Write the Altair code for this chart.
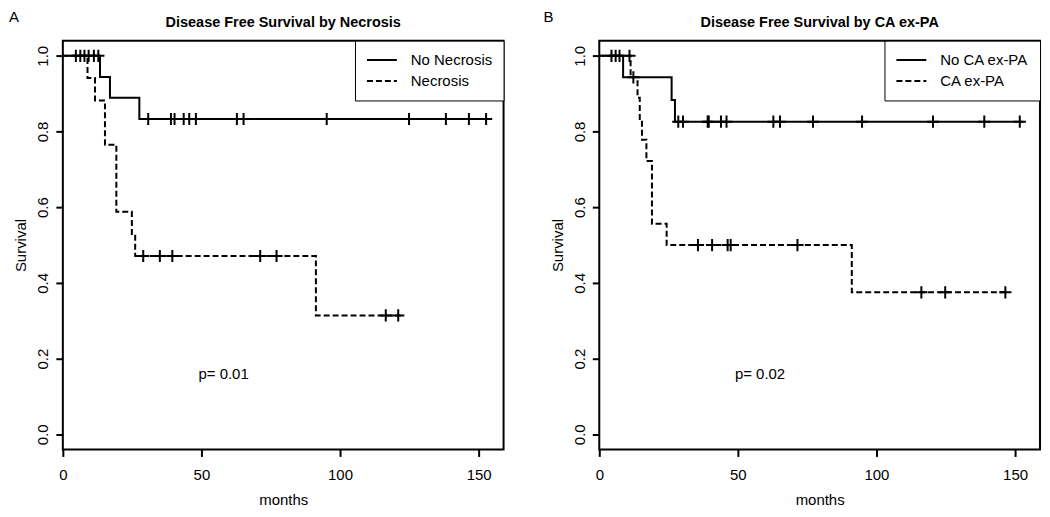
import altair as alt
import pandas as pd

# ---------------- data ----------------
# Panel A: Disease Free Survival by Necrosis
a_names = ["No Necrosis", "Necrosis"]
a_no_t = [0, 13.4, 17.0, 27.6]
a_no_s = [1.0, 0.944, 0.889, 0.833]
a_no_end = 154.0
a_no_cens = [4.7, 6.3, 7.8, 9.3, 11.2, 12.8, 30.8, 39.0, 40.3, 43.6, 45.6, 48.0,
             62.8, 65.2, 95.2, 124.9, 138.2, 146.5, 152.7]
a_ne_t = [0, 8.9, 11.6, 15.2, 19.3, 24.9, 26.1, 91.3]
a_ne_s = [1.0, 0.941, 0.882, 0.765, 0.588, 0.529, 0.471, 0.314]
a_ne_end = 122.0
a_ne_cens = [29.0, 35.0, 39.5, 71.2, 77.1, 116.5, 121.0]
a_p = "p= 0.01"

# Panel B: Disease Free Survival by CA ex-PA
b_names = ["No CA ex-PA", "CA ex-PA"]
b_no_t = [0, 8.6, 26.1, 27.3]
b_no_s = [1.0, 0.943, 0.883, 0.826]
b_no_end = 153.0
b_no_cens = [4.4, 5.9, 7.3, 12.3, 28.5, 30.2, 39.1, 39.5, 43.9, 45.9, 62.8, 65.2,
             77.1, 94.8, 120.4, 138.9, 151.7]
b_ca_t = [0, 11.3, 13.8, 14.6, 15.4, 17.0, 19.0, 24.3, 91.1]
b_ca_s = [1.0, 0.944, 0.889, 0.833, 0.778, 0.722, 0.556, 0.5, 0.375]
b_ca_end = 147.0
b_ca_cens = [10.9, 35.6, 40.7, 46.3, 47.4, 71.5, 116.2, 124.8, 146.5]
b_p = "p= 0.02"

p_pos = (58, 0.16)
x_ticks = [0, 50, 100, 150]
y_ticks = [0.0, 0.2, 0.4, 0.6, 0.8, 1.0]

W, H = 442, 410
FONT = "Liberation Sans"


def surv_at(ts, ss, t):
    v = ss[0]
    for ti, si in zip(ts, ss):
        if ti <= t:
            v = si
    return v


def build_frames(names, curves):
    lines, marks = [], []
    for name, (ts, ss, end, cens) in zip(names, curves):
        for ti, si in zip(ts, ss):
            lines.append({"group": name, "t": ti, "s": si})
        lines.append({"group": name, "t": end, "s": ss[-1]})
        for c in cens:
            marks.append({"group": name, "t": c, "s": surv_at(ts, ss, c)})
    return pd.DataFrame(lines), pd.DataFrame(marks)


def panel(letter, title, names, curves, ptext, letter_x):
    ldf, mdf = build_frames(names, curves)
    xs = alt.Scale(domain=[0, 159], nice=False, zero=False)
    ys = alt.Scale(domain=[-0.04, 1.04], nice=False, zero=False)
    xax = alt.Axis(values=x_ticks, title="months", labelFlush=False, labelOverlap=False,
                   labelPadding=11, titlePadding=10)
    yax = alt.Axis(values=y_ticks, format=".1f", title="Survival", labelAngle=270,
                   labelAlign="center", labelBaseline="alphabetic", labelPadding=8,
                   labelFlush=False, labelOverlap=False,
                   titleX=-37, titleY=H / 2, titleAngle=270, titleAlign="center",
                   titleBaseline="alphabetic")
    lines = alt.Chart(ldf).mark_line(interpolate="step-after", color="black",
                                     strokeWidth=2).encode(
        x=alt.X("t:Q", scale=xs, axis=xax),
        y=alt.Y("s:Q", scale=ys, axis=yax),
        strokeDash=alt.StrokeDash(
            "group:N",
            scale=alt.Scale(domain=names, range=[[1, 0], [6, 3]]),
            legend=alt.Legend(title=None, orient="top-right", offset=0,
                              strokeColor="black", fillColor="white", padding=11,
                              symbolType="M-1,0L3,0", symbolSize=225,
                              symbolStrokeWidth=2, symbolStrokeColor="black",
                              labelFont=FONT, labelFontSize=15, labelColor="black",
                              labelOffset=28, rowPadding=4, labelLimit=300,
                              cornerRadius=0)),
        detail="group:N",
    )
    crosses = alt.Chart(mdf).mark_point(shape="M-1,0L1,0M0,-1L0,1", size=150,
                                        filled=False, stroke="black", strokeWidth=2,
                                        opacity=1).encode(
        x=alt.X("t:Q", scale=xs), y=alt.Y("s:Q", scale=ys))
    pdf = pd.DataFrame({"t": [p_pos[0]], "s": [p_pos[1]], "lab": [ptext]})
    ptxt = alt.Chart(pdf).mark_text(font=FONT, fontSize=15, color="black").encode(
        x=alt.X("t:Q", scale=xs), y=alt.Y("s:Q", scale=ys), text="lab:N")
    ldf2 = pd.DataFrame({"lab": [letter]})
    lett = alt.Chart(ldf2).mark_text(font=FONT, fontSize=15, color="black",
                                     align="left", baseline="top").encode(
        x=alt.value(letter_x), y=alt.value(-31), text="lab:N")
    tdf = pd.DataFrame({"lab": [title]})
    ttl = alt.Chart(tdf).mark_text(font=FONT, fontSize=14.5, fontWeight="bold",
                                   color="black", align="center",
                                   baseline="alphabetic").encode(
        x=alt.value(W / 2), y=alt.value(-14), text="lab:N")
    return alt.layer(lines, crosses, ptxt, lett, ttl).properties(width=W, height=H)


pa = panel("A", "Disease Free Survival by Necrosis", a_names,
           [(a_no_t, a_no_s, a_no_end, a_no_cens), (a_ne_t, a_ne_s, a_ne_end, a_ne_cens)],
           a_p, -54)
pb = panel("B", "Disease Free Survival by CA ex-PA", b_names,
           [(b_no_t, b_no_s, b_no_end, b_no_cens), (b_ca_t, b_ca_s, b_ca_end, b_ca_cens)],
           b_p, -56)

chart = alt.hconcat(pa, pb, spacing=37).resolve_scale(
    strokeDash="independent").resolve_legend(strokeDash="independent").properties(
    padding=0, background="white"
).configure_view(stroke="black", strokeWidth=2).configure_axis(
    domain=False, grid=False, tickColor="black", tickWidth=2, tickSize=7,
    labelFont=FONT, labelFontSize=15, labelColor="black",
    titleFont=FONT, titleFontSize=15, titleFontWeight="normal", titleColor="black",
)

chart.save("out.html", embed_options={"renderer": "svg", "actions": False})
